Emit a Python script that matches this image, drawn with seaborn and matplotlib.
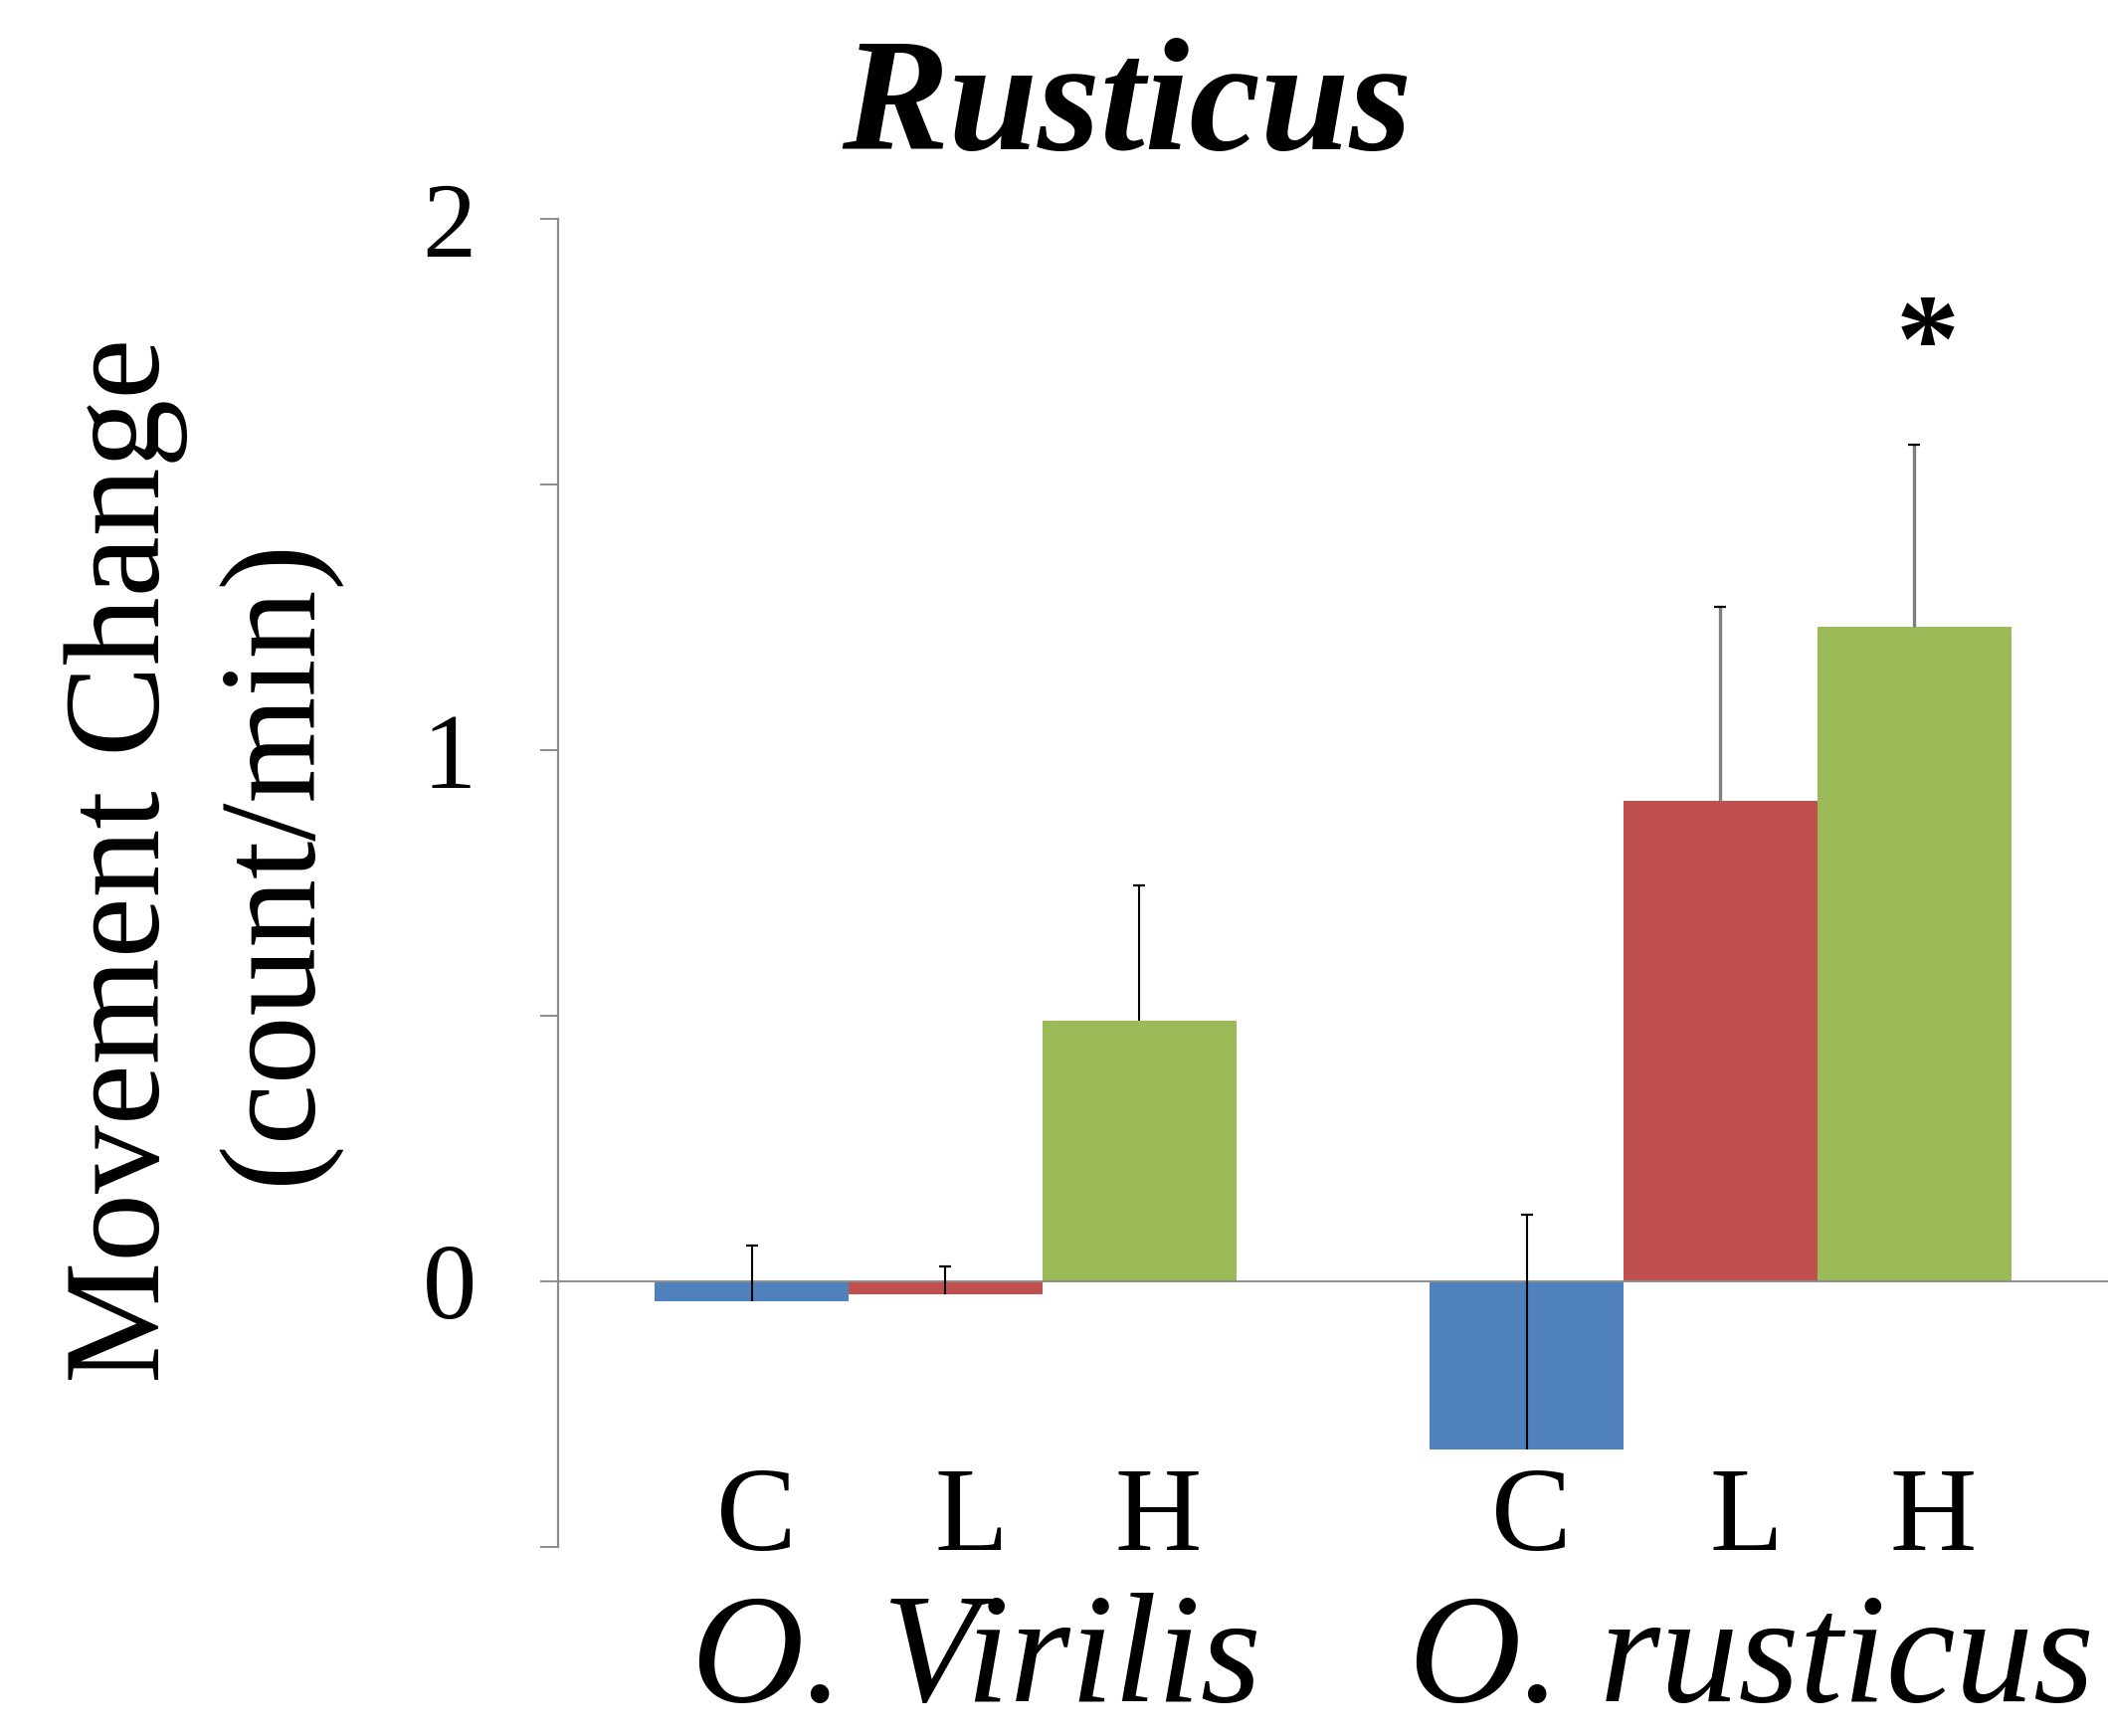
import matplotlib
matplotlib.use("Agg")
import matplotlib.pyplot as plt
import numpy as np
import pandas as pd
import seaborn as sns

# values
species = ["O. Virilis", "O. rusticus"]
treatments = ["C", "L", "H"]
change_virilis = [-0.038, -0.025, 0.490]
change_rusticus = [-0.316, 0.904, 1.232]
err_virilis = [0.106, 0.053, 0.255]
err_rusticus = [0.442, 0.366, 0.343]
star_species = "O. rusticus"
star_treatment = "H"
star_y = 1.695

colors = {"C": "#4f81bd", "L": "#c0504d", "H": "#9bbb59"}

df = pd.DataFrame({
    "species": np.repeat(species, len(treatments)),
    "treatment": treatments * len(species),
    "change": change_virilis + change_rusticus,
    "err": err_virilis + err_rusticus,
})

sns.set_style("white")
plt.rcParams["font.family"] = ["Liberation Serif", "DejaVu Serif"]
plt.rcParams["text.color"] = "black"

fig = plt.figure(figsize=(21.19, 17.45), dpi=100)
ax = fig.add_axes([0.2647, 0.1089, 0.7353, 0.765])

sns.barplot(
    data=df,
    x="species",
    y="change",
    hue="treatment",
    order=species,
    hue_order=treatments,
    palette=colors,
    width=0.75,
    gap=0,
    saturation=1,
    errorbar=None,
    linewidth=0,
    legend=False,
    ax=ax,
)

ax.set_xlim(-0.5, 1.5)
ax.set_ylim(-0.5, 2)
ax.axhline(0, color="#8c8c8c", lw=1.4, zorder=1)

# small nudges so letters sit like the original
letter_dx = {"C": 0.006, "L": 0.033, "H": 0.024}

# upper error bars, Excel style
centers = {}
for cont, t in zip(ax.containers, treatments):
    for bar, s in zip(cont, species):
        xc = bar.get_x() + bar.get_width() / 2
        centers[(s, t)] = xc
        row = df[(df["species"] == s) & (df["treatment"] == t)].iloc[0]
        mean, e = row["change"], row["err"]
        grey = (s == "O. rusticus") and (t != "C")
        ax.vlines(xc, mean, mean + e, color="#7f7f7f" if grey else "black",
                  lw=2.4 if grey else 1.5, zorder=3)
        ax.plot([xc], [mean + e], marker="_", ms=8, mew=1.6, color="black", zorder=4)
        # letter under each bar
        ax.text(xc + letter_dx[t], -0.505, t, ha="center", va="baseline",
                fontsize=87, color="black", clip_on=False)

ax.text(centers[(star_species, star_treatment)] + 0.017, star_y, "*",
        ha="center", va="baseline", fontsize=92, fontweight="bold", color="black")

for i, s in enumerate(species):
    ax.text(i + 0.04, -0.79, s, ha="center", va="baseline", fontsize=113,
            style="italic", color="black", clip_on=False)

ax.set_yticks([-0.5, 0, 0.5, 1, 1.5, 2])
ax.set_yticklabels(["", "0", "", "1", "", "2"])
ax.tick_params(axis="y", direction="out", length=13, width=1.4, color="#8c8c8c",
               labelcolor="black", pad=46, labelsize=78, left=True)
ax.set_xticks([])
ax.set_xlabel("")
ax.set_ylabel("")
for side in ["top", "right", "bottom"]:
    ax.spines[side].set_visible(False)
ax.spines["left"].set_color("#8c8c8c")
ax.spines["left"].set_linewidth(1.6)

fig.text(203 / 2119, 1 - 865 / 1745, "Movement Change\n(count/min)", rotation=90,
         ha="center", va="center", fontsize=99, linespacing=1.28, color="black")
fig.text(1133 / 2119, 1 - 150 / 1745, "Rusticus", ha="center", va="baseline",
         fontsize=116, fontweight="bold", style="italic", color="black")

fig.savefig("out.png", dpi=100)
